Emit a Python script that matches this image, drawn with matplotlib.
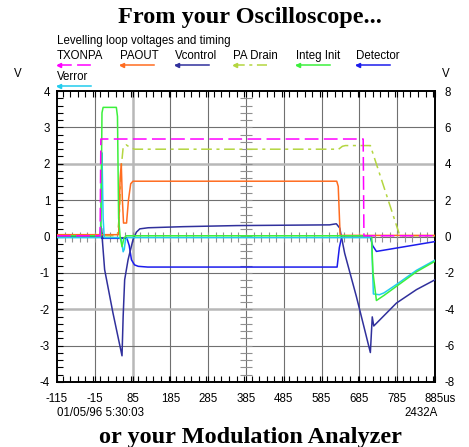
import numpy as np
import matplotlib
matplotlib.use("Agg")
import matplotlib.pyplot as plt
from matplotlib.lines import Line2D
from matplotlib.ticker import MultipleLocator

plt.rcParams['font.family'] = ['Liberation Sans', 'DejaVu Sans']

# time axis (us) and voltage readings, left scale
t_txonpa = [-115, -1, 1, 695, 697, 885]
v_txonpa = [0.02, 0.02, 2.68, 2.68, 0.02, 0.02]

t_paout = [-115, 48, 52, 55, 58, 61, 69, 74, 80, 86, 625, 629, 634, 885]
v_paout = [0.05, 0.05, 1.6, 2.0, 1.0, 0.37, 0.37, 1.0, 1.45, 1.52, 1.52, 1.38, 0.03, 0.03]

t_vcontrol = [-115, 0, 3, 5, 11, 33, 57, 60, 64, 73, 86, 95, 104, 126, 218, 360,
              606, 624, 633, 646, 677, 714, 716, 719, 723, 783, 836, 885]
v_vcontrol = [0.0, 0.0, 0.22, -0.1, -0.91, -2.1, -3.28, -2.2, -1.19, -0.64, -0.09, 0.12,
              0.21, 0.24, 0.27, 0.30, 0.32, 0.35, 0.23, -0.46, -1.65, -3.19, -2.8,
              -2.21, -2.46, -1.83, -1.46, -1.19]

t_padrain = [-115, 45, 50, 55, 60, 68, 78, 90, 630, 640, 648, 714, 792, 885]
v_padrain = [0.02, 0.02, 0.6, 1.9, 2.45, 2.52, 2.45, 2.40, 2.40, 2.48, 2.50, 2.50, 0.02, 0.02]

t_integ = [-115, 1, 4, 7, 42, 45, 48, 52, 57, 62, 68, 717, 721, 730, 750, 783, 836, 885]
v_integ = [0.02, 0.02, 3.4, 3.55, 3.55, 3.3, 0.5, 0.0, -0.28, -0.05, 0.02, 0.02,
           -1.0, -1.76, -1.62, -1.37, -0.97, -0.68]

t_detector = [-115, -1, 1, 3, 6, 70, 76, 82, 90, 100, 125, 626, 632, 638, 714, 720, 730, 885]
v_detector = [0.0, 0.0, 0.28, -0.05, -0.05, -0.05, -0.25, -0.64, -0.78, -0.82, -0.84,
              -0.84, -0.3, -0.02, -0.02, -0.25, -0.41, -0.14]

t_verror = [-115, 0, 2, 4, 7, 10, 50, 55, 60, 63, 66, 72, 717, 722, 738, 750, 783, 836, 885]
v_verror = [-0.03, -0.03, 1.5, 2.3, 0.5, -0.03, -0.03, -0.08, -0.42, -0.35, -0.1, -0.03,
            -0.03, -1.58, -1.6, -1.55, -1.32, -0.93, -0.65]

x_ticks = [-115, -15, 85, 185, 285, 385, 485, 585, 685, 785, 885]
y_ticks_left = [-4, -3, -2, -1, 0, 1, 2, 3, 4]
y_ticks_right = [-8, -6, -4, -2, 0, 2, 4, 6, 8]

series = [
    ("PA Drain", t_padrain, v_padrain, "#b4d640", (0, (7, 3, 2, 3))),
    ("Detector", t_detector, v_detector, "#1c1cec", "-"),
    ("Vcontrol", t_vcontrol, v_vcontrol, "#30309c", "-"),
    ("PAOUT", t_paout, v_paout, "#ff6c20", "-"),
    ("Verror", t_verror, v_verror, "#22ccee", "-"),
    ("Integ Init", t_integ, v_integ, "#3cf03c", "-"),
    ("TXONPA", t_txonpa, v_txonpa, "#ff00ff", (0, (9, 3.5))),
]

W, H = 469, 447
fig = plt.figure(figsize=(W / 100, H / 100), dpi=100)
ax = fig.add_axes([57 / W, 1 - 382 / H, (435 - 57) / W, (382 - 91) / H])
ax.set_xlim(-115, 885)
ax.set_ylim(-4, 4)

# graticule
for x in x_ticks[1:-1]:
    if x == 85:
        ax.axvline(x, color="#b8b8b8", lw=1.8, zorder=1)
    else:
        ax.axvline(x, color="#707070", lw=0.8, zorder=1)
for y in y_ticks_left[1:-1]:
    if abs(y) == 2:
        ax.axhline(y, color="#b8b8b8", lw=1.8, zorder=1)
    else:
        ax.axhline(y, color="#707070", lw=0.8, zorder=1)

# centre-line ticks
xm = np.arange(-115, 886, 20)
ym = np.arange(-4, 4.01, 0.2)
ax.plot(xm, np.zeros_like(xm), ls="none", marker="|", ms=7, mew=0.8, color="#909090", zorder=1)
ax.plot(np.full_like(ym, 385), ym, ls="none", marker="_", ms=8, mew=0.8, color="#909090", zorder=1)

for name, t, v, col, ls in series:
    ax.plot(t, v, color=col, lw=1.1, ls=ls, zorder=3)

ax.set_xticks(x_ticks)
ax.set_xticklabels([str(x) for x in x_ticks[:-1]] + [""])
ax.xaxis.set_minor_locator(MultipleLocator(20))
ax.set_yticks(y_ticks_left)
ax.set_yticklabels([str(y) for y in y_ticks_left])
ax.yaxis.set_minor_locator(MultipleLocator(0.2))
ax.tick_params(which="both", direction="in", top=True, right=True, length=4, width=0.8,
               labelsize=8.3)
ax.tick_params(axis="x", pad=8)
ax.tick_params(axis="y", pad=5)
for s in ax.spines.values():
    s.set_linewidth(1.4)

ax.annotate("885us", xy=(885, 0), xycoords=("data", "axes fraction"), xytext=(-7.5, -8),
            textcoords="offset points", ha="left", va="top", fontsize=8.3)

ax2 = ax.twinx()
ax2.set_ylim(-8, 8)
ax2.set_yticks(y_ticks_right)
ax2.set_yticklabels([str(y) for y in y_ticks_right])
ax2.tick_params(length=0, labelsize=8.3, pad=7)
for s in ax2.spines.values():
    s.set_visible(False)

# titles and labels
fig.text(250 / W, 1 - 18 / H, "From your Oscilloscope...", ha="center", va="center",
         fontsize=17.5, fontweight="bold", family="Liberation Serif")
fig.text(250 / W, 1 - 437 / H, "or your Modulation Analyzer", ha="center", va="center",
         fontsize=17.5, fontweight="bold", family="Liberation Serif")
fig.text(57 / W, 1 - 41 / H, "Levelling loop voltages and timing", ha="left", va="center",
         fontsize=8.3)
fig.text(18 / W, 1 - 74 / H, "V", ha="center", va="center", fontsize=8.3)
fig.text(446 / W, 1 - 74 / H, "V", ha="center", va="center", fontsize=8.3)
fig.text(57 / W, 1 - 413 / H, "01/05/96 5:30:03", ha="left", va="center", fontsize=8.3)
fig.text(438 / W, 1 - 413 / H, "2432A", ha="right", va="center", fontsize=8.3)

# legend
legend_pos = {
    "TXONPA": (57, 56), "PAOUT": (120, 56), "Vcontrol": (175, 56), "PA Drain": (233, 56),
    "Integ Init": (296, 56), "Detector": (356, 56), "Verror": (57, 77),
}
for name, t, v, col, ls in series:
    x0, y0 = legend_pos[name]
    fig.text(x0 / W, 1 - y0 / H, name, ha="left", va="center", fontsize=8.3)
    ly = 1 - (y0 + 9) / H
    fig.add_artist(Line2D([(x0 + 1) / W, (x0 + 34) / W], [ly, ly], color=col, lw=1.1, ls=ls,
                          transform=fig.transFigure))
    fig.add_artist(Line2D([(x0 + 2) / W], [ly], color=col, marker="<", ms=3, ls="none",
                          transform=fig.transFigure))

fig.savefig("out.png", dpi=100)
